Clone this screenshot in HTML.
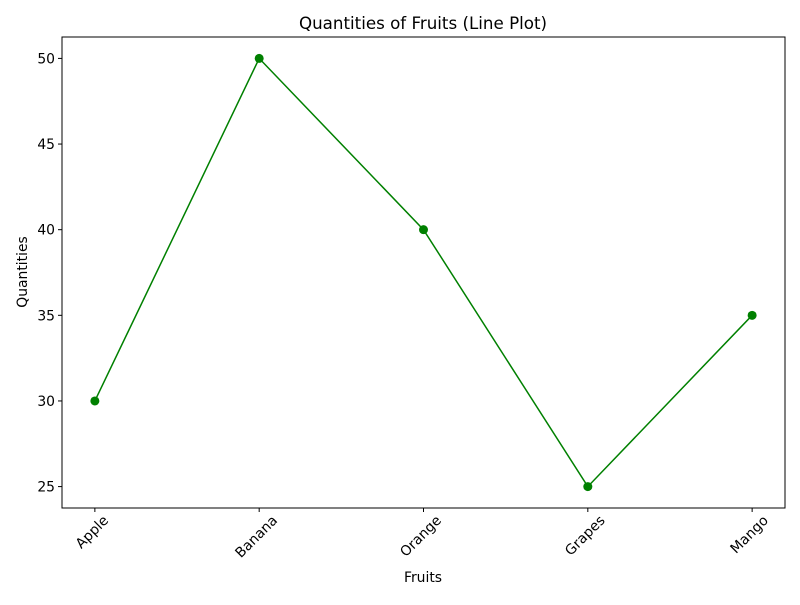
<!DOCTYPE html>
<html><head><meta charset="utf-8"><style>
body{margin:0;background:#fff;}
svg text{font-family:"DejaVu Sans","Liberation Sans",sans-serif;fill:#000;}
</style></head><body>
<svg id="chart" width="800" height="600">
<rect width="800" height="600" fill="#fff"/>
<text x="423" y="29" font-size="16.7" text-anchor="middle">Quantities of Fruits (Line Plot)</text>
<g id="axes"></g>
<text x="423" y="582" font-size="13.9" text-anchor="middle">Fruits</text>
<text transform="translate(27,272) rotate(-90)" font-size="13.9" text-anchor="middle">Quantities</text>
</svg>
<script>
const categories = ["Apple","Banana","Orange","Grapes","Mango"];
const quantities = [30,50,40,25,35];
const yTicks = [25,30,35,40,45,50];

const L=62,R=785,T=37,B=508;
const xMin=-0.2,xMax=4.2,yMin=23.75,yMax=51.25;
const X=i=>L+(i-xMin)/(xMax-xMin)*(R-L);
const Y=v=>B-(v-yMin)/(yMax-yMin)*(B-T);
const NS="http://www.w3.org/2000/svg";
const g=document.getElementById('axes');
function mk(t,a){const e=document.createElementNS(NS,t);for(const k in a)e.setAttribute(k,a[k]);g.appendChild(e);return e;}

yTicks.forEach(v=>{
  const l=mk('line',{x1:L-4,x2:L,y1:Y(v),y2:Y(v),stroke:'#000','stroke-width':1});
  
  
  const t=mk('text',{x:L-7,y:Y(v)+5,'font-size':13.9,'text-anchor':'end'});
  t.textContent=v;
  
  
});
categories.forEach((c,i)=>{
  const l=mk('line',{x1:X(i),x2:X(i),y1:B,y2:B+4,stroke:'#000','stroke-width':1});
  
  
  const t=mk('text',{'font-size':13.9,'text-anchor':'middle'});
  t.textContent=c;
  
  
  const w=t.getComputedTextLength();
  const h=(w+13.9)*0.7071;
  const cy=B+8+h/2;
  t.setAttribute('transform',`translate(${X(i)},${cy}) rotate(-45) translate(0,0.5)`);
});
const pts=quantities.map((v,i)=>X(i)+','+Y(v)).join(' ');
const line=mk('polyline',{points:pts,fill:'none',stroke:'#008000','stroke-width':1.5});


quantities.forEach((v,i)=>{
  const c=mk('circle',{cx:X(i),cy:Y(v),r:4.5,fill:'#008000'});
  
  
});
const f=mk('rect',{x:L,y:T,width:R-L,height:B-T,fill:'none',stroke:'#000','stroke-width':1});


</script>
</body></html>
